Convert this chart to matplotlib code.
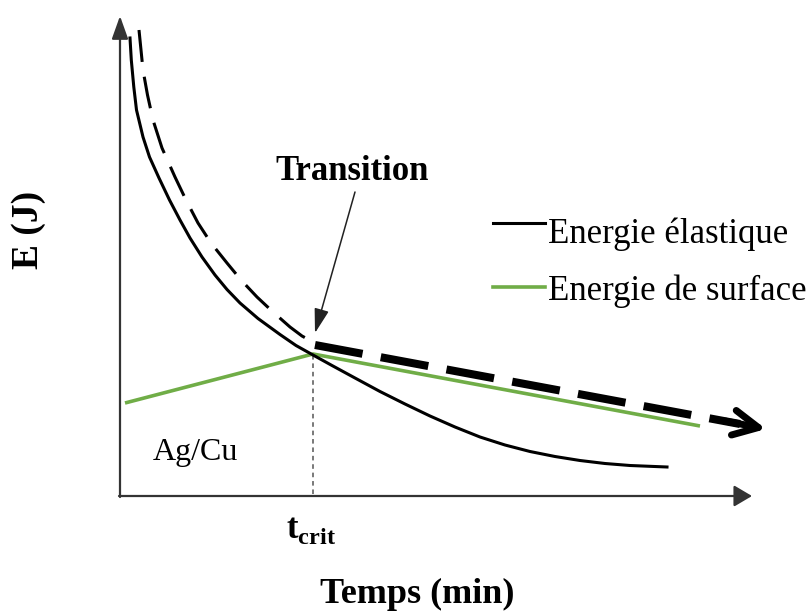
import matplotlib
matplotlib.use('Agg')
import matplotlib.pyplot as plt

plt.rcParams['font.family'] = ['Liberation Serif', 'DejaVu Serif']
plt.rcParams['mathtext.fontset'] = 'custom'
plt.rcParams['mathtext.rm'] = 'Liberation Serif'
plt.rcParams['mathtext.bf'] = 'Liberation Serif:bold'

# Schematic (picture units, y grows downwards)
# elastic energy: solid decaying curve
elastic_t = [130, 131.3, 133.8, 136.5, 143, 149.5, 159, 169.5, 180, 190, 202,
             215, 227, 240, 258, 280, 296, 313, 332, 355, 380, 405, 430, 455,
             480, 505, 530, 555, 580, 605, 630, 667]
elastic_e = [38, 60, 87, 110, 137, 157, 178, 200, 220, 238, 257,
             275, 289.5, 303, 318.5, 334.5, 345.5, 355, 365.5, 378, 391.5, 404,
             416, 427, 437, 445, 451.5, 456.5, 460.5, 463.5, 465.5, 467]

# total energy before the transition: thin dashed curve
total_t = [139, 141, 143, 147.5, 153, 162, 175, 186, 198, 211, 227, 241,
           257, 273, 290, 302, 313]
total_e = [30, 50, 70, 95, 120, 148, 177, 200, 223, 243, 263, 280,
           297, 312, 327, 336, 342]

# total energy after the transition: thick dashed straight line
after_t = [315, 740]
after_e = [345, 424]
arrow_tip = (766, 429)

# surface energy: green broken line
surface_t = [125, 313, 700]
surface_e = [403, 354, 426]

t_crit = 313
axis_x0, axis_y0 = 120, 496
axis_x1, axis_y1 = 752, 16

green = '#70AD47'

fig = plt.figure(figsize=(8.11, 6.13), dpi=100)
ax = fig.add_axes([0, 0, 1, 1])
ax.set_xlim(0, 811)
ax.set_ylim(613, 0)
ax.axis('off')

# axes with arrows
ax.annotate('', xy=(axis_x0, axis_y1), xytext=(axis_x0, axis_y0 + 1),
            arrowprops=dict(arrowstyle='-|>,head_length=1.4,head_width=0.5',
                            mutation_scale=10, color='#333333', lw=1.6,
                            shrinkA=0, shrinkB=0))
ax.annotate('', xy=(axis_x1, axis_y0), xytext=(axis_x0 - 1, axis_y0),
            arrowprops=dict(arrowstyle='-|>,head_length=1.1,head_width=0.65',
                            mutation_scale=10, color='#333333', lw=1.6,
                            shrinkA=0, shrinkB=0))

# t_crit marker
ax.plot([t_crit, t_crit], [355, axis_y0], color='#555555', lw=1.1,
        dashes=(3, 2.5))

# curves
ax.plot(surface_t, surface_e, color=green, lw=2.6, solid_capstyle='butt')
ax.plot(elastic_t, elastic_e, color='black', lw=2.2)
ax.plot(total_t, total_e, color='black', lw=2.2, dashes=(10.5, 4.9),
        dash_capstyle='butt')
ax.plot(after_t, after_e, color='black', lw=5.8, dashes=(6, 2.3),
        dash_capstyle='butt')
ax.annotate('', xy=arrow_tip, xytext=(after_t[1] - 15, after_e[1] - 3),
            arrowprops=dict(arrowstyle='->,head_length=1.8,head_width=0.9',
                            mutation_scale=10, color='black', lw=5.0,
                            shrinkA=0, shrinkB=0))

# transition arrow
ax.annotate('', xy=(315, 333), xytext=(355, 192),
            arrowprops=dict(arrowstyle='-|>,head_length=1.5,head_width=0.45',
                            mutation_scale=10, color='#222222', lw=1.1,
                            shrinkA=0, shrinkB=0))
ax.text(352, 180, 'Transition', fontsize=25, fontweight='bold',
        ha='center', va='baseline')

# legend
ax.plot([493, 545], [223, 223], color='black', lw=2.2)
ax.plot([493, 545], [287, 287], color=green, lw=2.6)
ax.text(548, 243, 'Energie élastique', fontsize=25, ha='left', va='baseline')
ax.text(548, 300, 'Energie de surface', fontsize=25, ha='left', va='baseline')

# labels
ax.text(153, 460, 'Ag/Cu', fontsize=23, ha='left', va='baseline')
ax.text(286, 538, r'$\mathbf{t}_{\mathbf{crit}}$', fontsize=25,
        ha='left', va='baseline')
ax.text(417, 603, 'Temps (min)', fontsize=26, fontweight='bold',
        ha='center', va='baseline')
ax.text(28, 230, 'E (J)', fontsize=27, fontweight='bold', rotation=90,
        ha='center', va='center')

fig.savefig('out.png', dpi=100)
